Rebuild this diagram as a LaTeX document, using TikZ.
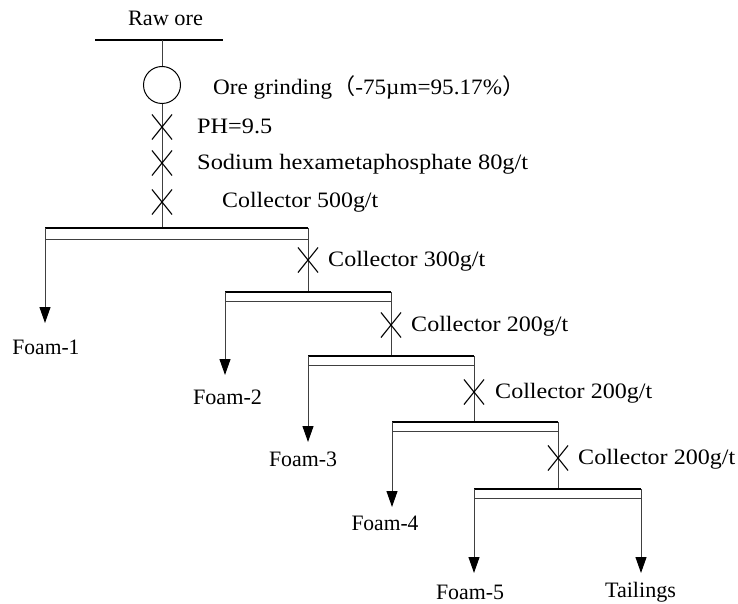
\documentclass[tikz,border=0pt]{standalone}
\usepackage{fontspec}
\usepackage{graphicx}
\setmainfont{Liberation Serif}
\newfontfamily\cjkfont{Noto Sans CJK SC}
\usetikzlibrary{arrows.meta,shapes.misc}
\newcommand{\mywidthbox}[2]{\resizebox{#1pt}{\height}{#2}}
\begin{document}
\begin{tikzpicture}[x=1pt,y=-1pt,
  txt/.style={inner sep=0pt,font=\fontsize{22}{26}\selectfont},
  lbl/.style={txt,anchor=west},
  bar/.style={line width=2.5pt,black},
  thinl/.style={line width=1pt,black!75},
  xmark/.style={cross out,draw=black,line width=1.1pt,minimum width=19pt,minimum height=24pt,inner sep=0pt},
  flowarrow/.style={line width=1pt,draw=black!75,-{Triangle[length=16pt,width=11pt,color=black]}}
]
\useasboundingbox (0,0) rectangle (738,604);

% feed
\node[txt] (raw) at (165.5,18) {\mywidthbox{75}{Raw ore}};
\coordinate (rawL) at (95,40);
\coordinate (rawR) at (223,40);
\coordinate (rawC) at (162,40);
\draw[bar] (rawL) -- (rawR);
\coordinate (b1top) at (162,228);
\draw[thinl] (rawC) -- (b1top);
\node[circle,draw=black,line width=1pt,fill=white,minimum size=37pt,inner sep=0pt] (grind) at (162,85) {};
\node[xmark] (x1) at (162,127) {};
\node[xmark] (x2) at (162,163) {};
\node[xmark] (x3) at (162,202) {};
\node[lbl] (lgrind) at (213,87) {\mywidthbox{312}{Ore grinding{\cjkfont （}-75µm=95.17\%{\cjkfont ）}}};
\node[lbl] (lph) at (197,126) {\mywidthbox{75}{PH=9.5}};
\node[lbl] (lsod) at (197,164) {\mywidthbox{331}{Sodium hexametaphosphate 80g/t}};
\node[lbl] (lc1) at (222,202) {\mywidthbox{156}{Collector 500g/t}};

% cell 1
\coordinate (c1L) at (45,228); \coordinate (c1R) at (308,228);
\coordinate (c1Lt) at (45,239); \coordinate (c1Rt) at (308,239);
\draw[bar] (c1L) -- (c1R);
\draw[thinl] (c1Lt) -- (c1Rt);
\coordinate (f1tip) at (45,323);
\draw[flowarrow] (c1L) -- (f1tip);
\node[txt] (f1) at (46,347) {\mywidthbox{67}{Foam-1}};
% cell 2
\coordinate (c2L) at (225,292); \coordinate (c2R) at (391,292); \coordinate (c2C) at (308,292);
\coordinate (c2Lt) at (225,301); \coordinate (c2Rt) at (391,301);
\draw[thinl] (c1R) -- (c2C);
\node[xmark] (x4) at (308,260) {};
\node[lbl] (lc2) at (328,261) {\mywidthbox{157}{Collector 300g/t}};
\draw[bar] (c2L) -- (c2R);
\draw[thinl] (c2Lt) -- (c2Rt);
\coordinate (f2tip) at (225,375);
\draw[flowarrow] (c2L) -- (f2tip);
\node[txt] (f2) at (227.5,397) {\mywidthbox{69}{Foam-2}};
% cell 3
\coordinate (c3L) at (308,356); \coordinate (c3R) at (474,356); \coordinate (c3C) at (391,356);
\coordinate (c3Lt) at (308,365); \coordinate (c3Rt) at (474,365);
\draw[thinl] (c2R) -- (c3C);
\node[xmark] (x5) at (391,325) {};
\node[lbl] (lc3) at (411,326) {\mywidthbox{157}{Collector 200g/t}};
\draw[bar] (c3L) -- (c3R);
\draw[thinl] (c3Lt) -- (c3Rt);
\coordinate (f3tip) at (308,442);
\draw[flowarrow] (c3L) -- (f3tip);
\node[txt] (f3) at (303,459) {\mywidthbox{68}{Foam-3}};
% cell 4
\coordinate (c4L) at (392,422); \coordinate (c4R) at (558,422); \coordinate (c4C) at (474,422);
\coordinate (c4Lt) at (392,431); \coordinate (c4Rt) at (558,431);
\draw[thinl] (c3R) -- (c4C);
\node[xmark] (x6) at (474,392) {};
\node[lbl] (lc4) at (495,393) {\mywidthbox{157}{Collector 200g/t}};
\draw[bar] (c4L) -- (c4R);
\draw[thinl] (c4Lt) -- (c4Rt);
\coordinate (f4tip) at (392,507);
\draw[flowarrow] (c4L) -- (f4tip);
\node[txt] (f4) at (385,523) {\mywidthbox{67}{Foam-4}};
% cell 5
\coordinate (c5L) at (474,489); \coordinate (c5R) at (641,489); \coordinate (c5C) at (558,489);
\coordinate (c5Lt) at (474,498); \coordinate (c5Rt) at (641,498);
\draw[thinl] (c4R) -- (c5C);
\node[xmark] (x7) at (558,458) {};
\node[lbl] (lc5) at (578,459) {\mywidthbox{157}{Collector 200g/t}};
\draw[bar] (c5L) -- (c5R);
\draw[thinl] (c5Lt) -- (c5Rt);
\coordinate (f5tip) at (474,573);
\coordinate (ttip) at (641,573);
\draw[flowarrow] (c5L) -- (f5tip);
\draw[flowarrow] (c5R) -- (ttip);
\node[txt] (f5) at (470,592) {\mywidthbox{68}{Foam-5}};
\node[txt] (tail) at (640.5,592) {\mywidthbox{71}{Tailings}};
\end{tikzpicture}
\end{document}
